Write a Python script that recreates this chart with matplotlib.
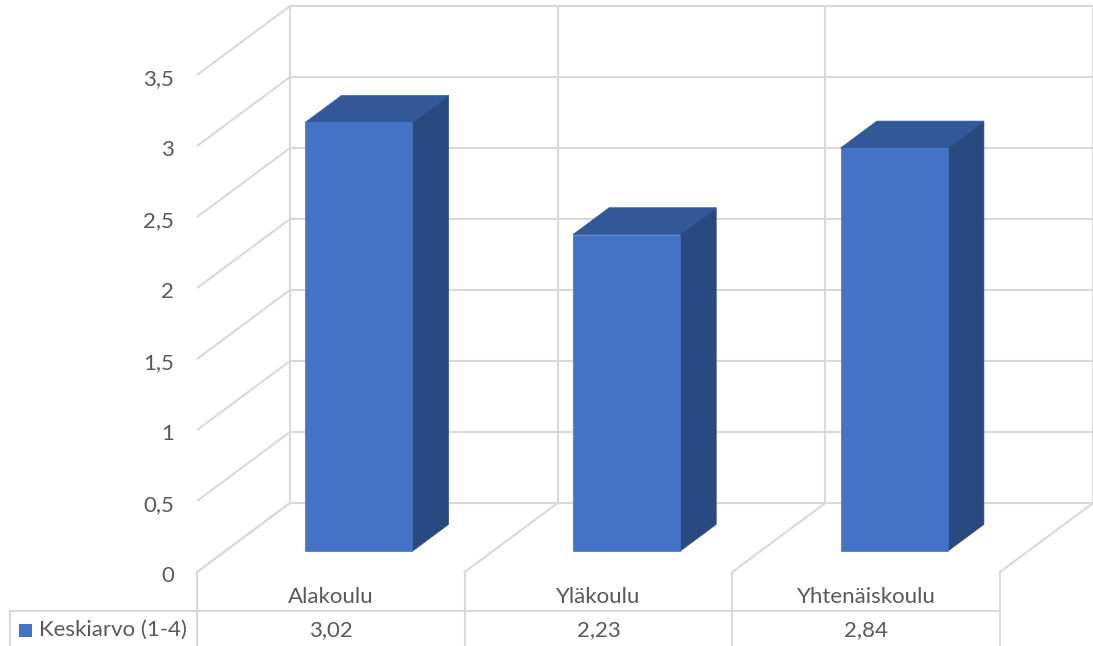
import matplotlib.pyplot as plt
from matplotlib.patches import Polygon, Rectangle

categories = ["Alakoulu", "Yläkoulu", "Yhtenäiskoulu"]
values = [3.02, 2.23, 2.84]
value_labels = ["3,02", "2,23", "2,84"]
series_name = "Keskiarvo (1-4)"
yticks = [0, 0.5, 1, 1.5, 2, 2.5, 3, 3.5]
ytick_labels = ["0", "0,5", "1", "1,5", "2", "2,5", "3", "3,5"]

plt.rcParams['font.family'] = ['Lato', 'DejaVu Sans']
text_col = "#595959"
grid_col = "#d9d9d9"
front_col = "#4472c4"
top_col = "#335899"
side_col = "#294a80"

# oblique projection: depth d in [0, 1] shifts right and up
DX = 93 / 267.67
DY = 69 / 142.0


def proj(x, v, d):
    return (x + d * DX, v + d * DY)


fig = plt.figure(figsize=(10.93, 6.46), dpi=100)
ax = fig.add_axes([0, 0, 1, 1])
ax.set_xlim(-197 / 267.67, (1093 - 197) / 267.67)
ax.set_ylim(-74 / 142.0, 572 / 142.0)
ax.axis("off")

n = len(categories)
ymax = yticks[-1]
lw = 1.5

# walls and floor
for v in yticks:
    xs, ys = zip(proj(0, v, 0), proj(0, v, 1), proj(n, v, 1))
    ax.plot(xs, ys, color=grid_col, lw=lw, zorder=1, solid_capstyle="butt")
for i in range(n + 1):
    xs, ys = zip(proj(i, 0, 1), proj(i, ymax, 1))
    ax.plot(xs, ys, color=grid_col, lw=lw, zorder=1)
    xs, ys = zip(proj(i, 0, 0), proj(i, 0, 1))
    ax.plot(xs, ys, color=grid_col, lw=lw, zorder=1)

# data table lines
y_bottom = -74 / 142.0
y_table = (572 - 611) / 142.0
x_table_left = (10 - 197) / 267.67
for i in range(n + 1):
    ax.plot([i, i], [0, y_bottom], color=grid_col, lw=lw, zorder=1)
ax.plot([x_table_left, n], [y_table, y_table], color=grid_col, lw=lw, zorder=1)
ax.plot([x_table_left, x_table_left], [y_table, y_bottom], color=grid_col, lw=lw, zorder=1)

# 3d bars
half_w = 0.2
d0, d1 = 0.30, 0.69
for i, v in enumerate(values):
    xl, xr = i + 0.5 - half_w, i + 0.5 + half_w
    side = [proj(xr, 0, d0), proj(xr, 0, d1), proj(xr, v, d1), proj(xr, v, d0)]
    top = [proj(xl, v, d0), proj(xr, v, d0), proj(xr, v, d1), proj(xl, v, d1)]
    front = [proj(xl, 0, d0), proj(xr, 0, d0), proj(xr, v, d0), proj(xl, v, d0)]
    ax.add_patch(Polygon(side, closed=True, facecolor=side_col, edgecolor=side_col, lw=0.5, zorder=3))
    ax.add_patch(Polygon(top, closed=True, facecolor=top_col, edgecolor=top_col, lw=0.5, zorder=3))
    ax.add_patch(Polygon(front, closed=True, facecolor=front_col, edgecolor=front_col, lw=0.5, zorder=4))

# y axis labels
fs = 16
for v, lab in zip(yticks, ytick_labels):
    ax.text(-0.085, v - 4 / 142.0, lab, ha="right", va="center", fontsize=fs, color=text_col)

# category labels and table values
y_cat = (572 - 597) / 142.0
y_val = (572 - 630) / 142.0
for i, (c, lab) in enumerate(zip(categories, value_labels)):
    ax.text(i + 0.5, y_cat, c, ha="center", va="center", fontsize=fs, color=text_col)
    ax.text(i + 0.5, y_val, lab, ha="center", va="center", fontsize=fs, color=text_col)

# legend key in table
sq = 13 / 267.67
ax.add_patch(Rectangle(((19 - 197) / 267.67, (572 - 637) / 142.0), sq, 13 / 142.0,
                       facecolor=front_col, edgecolor="none"))
ax.text((39 - 197) / 267.67, y_val, series_name, ha="left", va="center", fontsize=fs, color=text_col)

fig.savefig("out.png", dpi=100)
